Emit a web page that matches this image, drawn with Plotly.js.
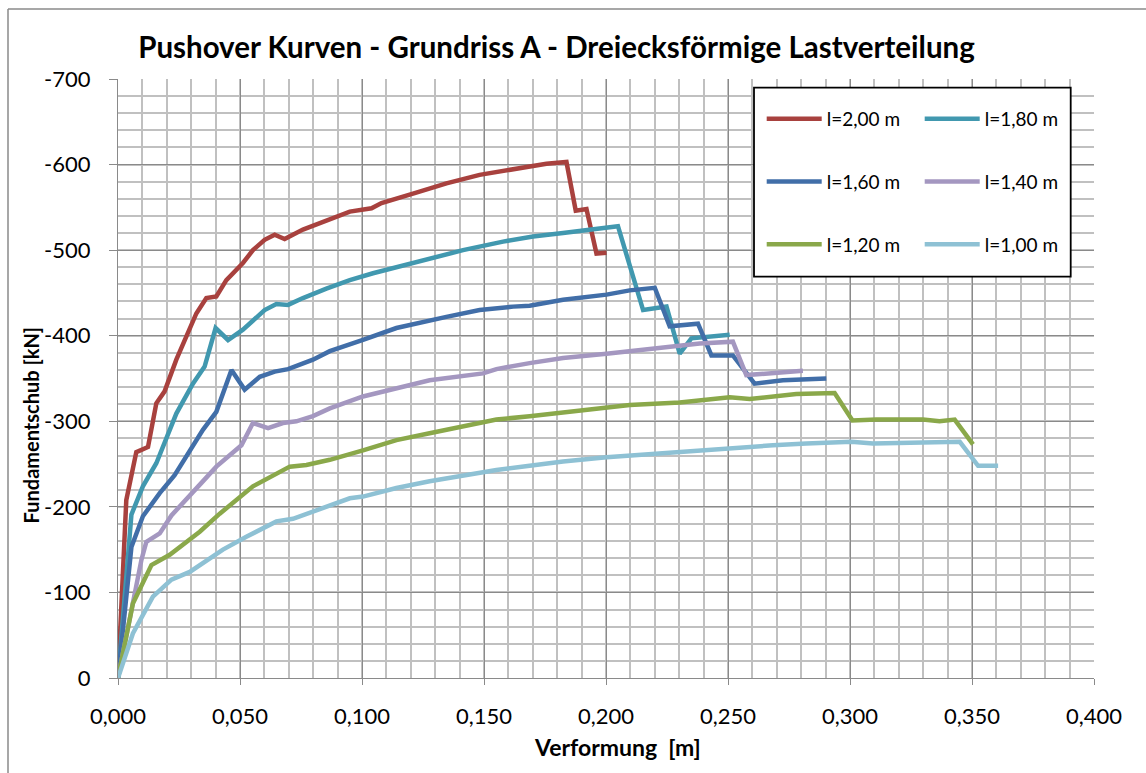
<!DOCTYPE html>
<html>
<head>
<meta charset="utf-8">
<script src="https://cdn.plot.ly/plotly-3.0.1.min.js"></script>
<style>
  html, body { margin: 0; padding: 0; background: #fff; overflow: hidden; }
  #chart { width: 1146px; height: 773px; }
</style>
</head>
<body>
<div id="chart"></div>
<script>
// ---- Data (Verformung [m], Fundamentschub [kN]) ----
const seriesNames = ["l=2,00 m", "l=1,80 m", "l=1,60 m", "l=1,40 m", "l=1,20 m", "l=1,00 m"];

const x200 = [0, 0.0034, 0.0075, 0.0123, 0.0157, 0.0191, 0.0239, 0.0321, 0.0362, 0.0403, 0.0444, 0.0512, 0.0553, 0.0601, 0.0642, 0.0683, 0.0758, 0.0854, 0.095, 0.1039, 0.108, 0.1209, 0.1346, 0.1482, 0.1578, 0.1687, 0.1756, 0.1838, 0.1876, 0.192, 0.1961, 0.2002];
const y200 = [0, -208, -264, -270, -321, -335, -372, -426, -444, -446, -465, -485, -500, -512, -518, -513, -524, -534, -545, -549, -555, -566, -578, -588, -593, -598, -601, -603, -546, -548, -496, -497];

const x180 = [0, 0.0055, 0.0102, 0.0157, 0.0239, 0.0307, 0.0355, 0.04, 0.0451, 0.0512, 0.0601, 0.0649, 0.0697, 0.0758, 0.0854, 0.095, 0.1045, 0.1209, 0.1414, 0.1578, 0.1701, 0.1824, 0.1906, 0.2049, 0.2152, 0.2248, 0.2302, 0.235, 0.2507];
const y180 = [0, -191, -224, -251, -309, -344, -364, -409, -395, -407, -430, -437, -436, -444, -455, -465, -473, -485, -500, -510, -516, -520, -523, -528, -430, -434, -379, -397, -401];

const x160 = [0, 0.0055, 0.0102, 0.0171, 0.0232, 0.0294, 0.0348, 0.0403, 0.0465, 0.0519, 0.0581, 0.0642, 0.0697, 0.0799, 0.0868, 0.1004, 0.1141, 0.1346, 0.1482, 0.1619, 0.1687, 0.1824, 0.2002, 0.2097, 0.22, 0.2261, 0.2377, 0.2432, 0.252, 0.2609, 0.2725, 0.2903];
const y160 = [0, -153, -189, -216, -237, -266, -290, -311, -360, -337, -352, -358, -361, -372, -382, -395, -409, -422, -430, -434, -435, -442, -448, -453, -456, -411, -414, -377, -377, -344, -348, -350];

const x140 = [0, 0.0096, 0.0116, 0.0171, 0.0219, 0.028, 0.0342, 0.0403, 0.0506, 0.0553, 0.0615, 0.0676, 0.0731, 0.0799, 0.0868, 0.1004, 0.1141, 0.1277, 0.1496, 0.1551, 0.1687, 0.1824, 0.2002, 0.2234, 0.2384, 0.252, 0.2575, 0.2807];
const y140 = [0, -138, -159, -169, -190, -208, -228, -247, -272, -298, -292, -298, -300, -306, -315, -329, -339, -348, -356, -361, -368, -374, -379, -387, -391, -393, -354, -359];

const x120 = [0, 0.0061, 0.0137, 0.0212, 0.0335, 0.0417, 0.0553, 0.0704, 0.0772, 0.0868, 0.1004, 0.1141, 0.1277, 0.1414, 0.1551, 0.1687, 0.1824, 0.1961, 0.2097, 0.2302, 0.2507, 0.2589, 0.2684, 0.278, 0.2937, 0.301, 0.3108, 0.3299, 0.3367, 0.3429, 0.3504];
const y120 = [0, -87, -132, -144, -171, -192, -224, -247, -249, -255, -266, -278, -286, -294, -302, -306, -310, -315, -319, -322, -328, -326, -329, -332, -333, -301, -302, -302, -300, -302, -273];

const x100 = [0, 0.0061, 0.0143, 0.0219, 0.0294, 0.043, 0.0526, 0.0649, 0.0717, 0.0813, 0.095, 0.1004, 0.1141, 0.1277, 0.1414, 0.1551, 0.1687, 0.1824, 0.2002, 0.2234, 0.248, 0.2684, 0.2821, 0.3006, 0.3094, 0.3299, 0.345, 0.3525, 0.3607];
const y100 = [0, -52, -95, -115, -124, -150, -165, -183, -186, -196, -210, -212, -222, -230, -237, -243, -248, -253, -258, -263, -267, -272, -274, -276, -274, -275, -276, -248, -248];

const xTickVals = [0, 0.05, 0.1, 0.15, 0.2, 0.25, 0.3, 0.35, 0.4];
const xTickLabels = ["0,000", "0,050", "0,100", "0,150", "0,200", "0,250", "0,300", "0,350", "0,400"];
const yTickVals = [0, -100, -200, -300, -400, -500, -600, -700];
const yTickLabels = ["0", "-100", "-200", "-300", "-400", "-500", "-600", "-700"];

// ---- Styling ----
const colors = ["#A8413E", "#4198AF", "#416EA8", "#A497C0", "#8AA84A", "#8EC1D4"];
const xs = [x200, x180, x160, x140, x120, x100];
const ys = [y200, y180, y160, y140, y120, y100];
const legendOf = ["legend", "legend2", "legend", "legend2", "legend", "legend2"];

const FONT = "Lato, 'Open Sans', sans-serif";

const traces = seriesNames.map((name, i) => ({
  type: "scatter",
  mode: "lines",
  name: name,
  x: xs[i],
  y: ys[i],
  line: { color: colors[i], width: 4.5 },
  legend: legendOf[i],
  legendgroup: "g" + i,
  hoverinfo: "x+y+name"
}));

// plot area in pixels: left 118.3, right 1094.3, top 79, bottom 678
const L = 118.3, R = 1094.3, T = 79, B = 678;
const px2x = p => (p - L) / (R - L);
const px2y = p => (B - p) / (B - T);

const legendCommon = {
  yanchor: "top",
  orientation: "v",
  bgcolor: "rgba(0,0,0,0)",
  borderwidth: 0,
  font: { family: FONT, size: 19, color: "#000" },
  tracegroupgap: 35,
  itemwidth: 55,
  traceorder: "grouped"
};

const layout = {
  width: 1146,
  height: 773,
  margin: { l: L, r: 1146 - R, t: T, b: 773 - B, pad: 0 },
  paper_bgcolor: "#ffffff",
  plot_bgcolor: "#ffffff",
  font: { family: FONT, size: 22, color: "#000000" },
  title: {
    text: "<b>Pushover Kurven - Grundriss A - Dreiecksförmige Lastverteilung</b>",
    font: { family: FONT, size: 29.5, color: "#000000" },
    x: 556.5 / 1146, xref: "container", xanchor: "center",
    y: (773 - 48) / 773, yref: "container", yanchor: "middle"
  },
  xaxis: {
    range: [0, 0.4],
    tickmode: "array",
    tickvals: xTickVals,
    ticktext: xTickLabels,
    showgrid: true,
    gridcolor: "#8a8a8a",
    gridwidth: 1.3,
    minor: { tickmode: "linear", tick0: 0, dtick: 0.01, showgrid: true, gridcolor: "#c0c0c0", gridwidth: 1.8 },
    showline: true,
    linecolor: "#8a8a8a",
    linewidth: 1.3,
    ticks: "outside",
    ticklen: 6,
    tickcolor: "#8a8a8a",
    tickwidth: 1.3,
    ticklabelstandoff: 12,
    tickfont: { family: FONT, size: 22, color: "#000" },
    zeroline: false,
    fixedrange: true
  },
  yaxis: {
    range: [0, -700],
    tickmode: "array",
    tickvals: yTickVals,
    ticktext: yTickLabels,
    showgrid: true,
    gridcolor: "#8a8a8a",
    gridwidth: 1.3,
    minor: { tickmode: "linear", tick0: 0, dtick: 20, showgrid: true, gridcolor: "#c0c0c0", gridwidth: 1.8 },
    showline: true,
    linecolor: "#8a8a8a",
    linewidth: 1.3,
    ticks: "outside",
    ticklen: 8,
    tickcolor: "#8a8a8a",
    tickwidth: 1.3,
    ticklabelstandoff: 14,
    tickfont: { family: FONT, size: 22, color: "#000" },
    zeroline: false,
    fixedrange: true
  },
  showlegend: true,
  legend: Object.assign({ x: px2x(762), xanchor: "left", y: px2y(100) }, legendCommon),
  legend2: Object.assign({ x: px2x(920), xanchor: "left", y: px2y(100) }, legendCommon),
  shapes: [
    // legend box
    { type: "rect", xref: "paper", yref: "paper",
      x0: px2x(754.3), x1: px2x(1071), y0: px2y(276.7), y1: px2y(87.7),
      line: { color: "#000000", width: 1.8 }, fillcolor: "#ffffff", layer: "above" },
    // chart outer border (left and top edges)
    { type: "line", xref: "paper", yref: "paper",
      x0: px2x(8.3), x1: px2x(8.3), y0: px2y(780), y1: px2y(9), line: { color: "#8a8a8a", width: 1.5 } },
    { type: "line", xref: "paper", yref: "paper",
      x0: px2x(8.3), x1: px2x(1150), y0: px2y(9), y1: px2y(9), line: { color: "#8a8a8a", width: 1.5 } }
  ],
  annotations: [
    { text: "<b>Verformung  [m]</b>", xref: "paper", yref: "paper",
      x: px2x(618), y: px2y(747), xanchor: "center", yanchor: "middle",
      showarrow: false, font: { family: FONT, size: 23, color: "#000" } },
    { text: "<b>Fundamentschub [kN]</b>", xref: "paper", yref: "paper",
      x: px2x(31.7), y: px2y(425), xanchor: "center", yanchor: "middle", textangle: -90,
      showarrow: false, font: { family: FONT, size: 20, color: "#000" } }
  ]
};

Plotly.newPlot("chart", traces, layout, { displayModeBar: false, staticPlot: false, responsive: false });
</script>
</body>
</html>
